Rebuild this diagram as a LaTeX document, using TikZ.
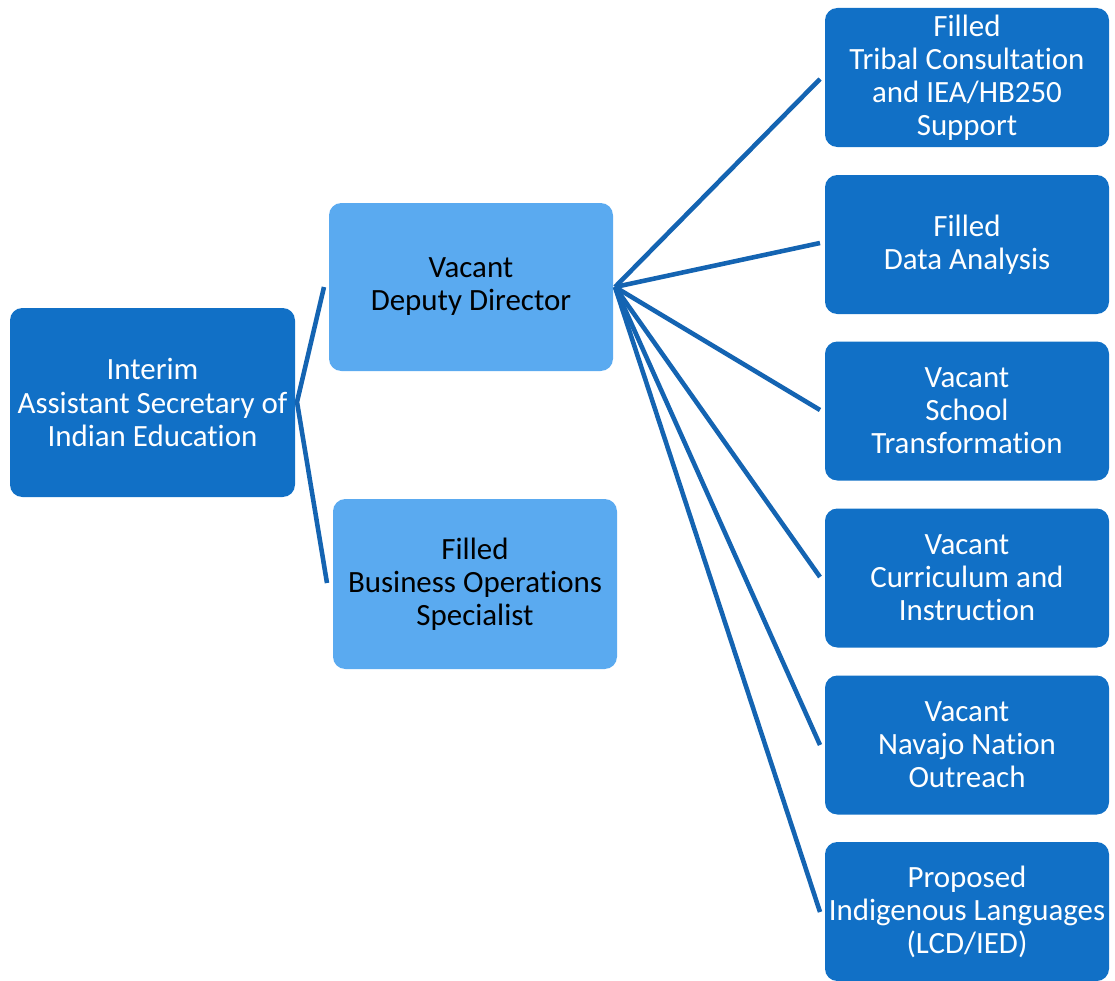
\documentclass[tikz,border=0pt]{standalone}
\usepackage{fontspec}
\setmainfont[Ligatures=NoCommon]{Carlito}
\definecolor{darkbox}{HTML}{1170C6}
\definecolor{lightbox}{HTML}{5AAAF0}
\definecolor{linkblue}{HTML}{1464B2}

\begin{document}
\begin{tikzpicture}[x=0.02cm,y=-0.02cm]
      \tikzstyle{box}=[rounded corners=7pt,align=center,inner sep=0pt,font=\fontsize{17.6}{18.8}\selectfont];
      \tikzstyle{dark}=[box,fill=darkbox,text=white,minimum width=284*0.02cm];
      \tikzstyle{light}=[box,fill=lightbox,text=black,minimum width=284*0.02cm];
      \tikzstyle{link}=[draw=linkblue,line width=2.6pt];
      \useasboundingbox (0,0) rectangle (1115,980);

      \node[dark,minimum width=285*0.02cm,minimum height=189*0.02cm] (ase) at (152.5,402.5) {Interim\\Assistant Secretary of\\Indian Education};
      \node[light,minimum height=168*0.02cm] (deputy) at (471,287) {Vacant\\Deputy Director};
      \node[light,minimum height=170*0.02cm] (busops) at (475,584) {Filled\\Business Operations\\Specialist};

      \node[dark,minimum height=139*0.02cm] (tribal) at (967,77.5) {Filled\\Tribal Consultation\\and IEA/HB250\\Support};
      \node[dark,minimum height=139*0.02cm] (data) at (967,244.5) {Filled\\Data Analysis};
      \node[dark,minimum height=139*0.02cm] (school) at (967,411) {Vacant\\School\\Transformation};
      \node[dark,minimum height=139*0.02cm] (curric) at (967,578) {Vacant\\Curriculum and\\Instruction};
      \node[dark,minimum height=139*0.02cm] (navajo) at (967,745) {Vacant\\Navajo Nation\\Outreach};
      \node[dark,minimum height=139*0.02cm] (lang) at (967,911.5) {Proposed\\Indigenous Languages\\(LCD/IED)};

      \coordinate (ase-r) at (297,402);
      \coordinate (deputy-in) at (324,287);
      \coordinate (busops-in) at (327,583);
      \coordinate (deputy-r) at (615,287);
      \coordinate (tribal-in) at (820,79);
      \coordinate (data-in) at (820,243);
      \coordinate (school-in) at (820,410);
      \coordinate (curric-in) at (820,577);
      \coordinate (navajo-in) at (820,745);
      \coordinate (lang-in) at (820,912);

      \draw[link] (deputy-in)--(ase-r)--(busops-in);
      \foreach \n in {tribal,data,school,curric,navajo,lang}
        \draw[link] (deputy-r)--(\n-in);
    \end{tikzpicture}
\end{document}
